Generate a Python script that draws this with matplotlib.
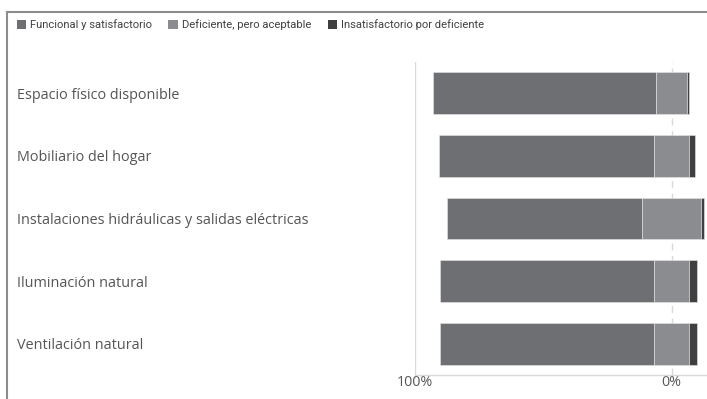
import matplotlib
matplotlib.use("Agg")
import matplotlib.pyplot as plt
from matplotlib.patches import Patch
from matplotlib.lines import Line2D
import numpy as np

categories = ["Espacio físico disponible", "Mobiliario del hogar",
              "Instalaciones hidráulicas y salidas eléctricas",
              "Iluminación natural", "Ventilación natural"]
funcional = [87.1, 84.0, 76.0, 83.3, 83.3]
deficiente = [12.1, 13.6, 23.0, 13.6, 13.6]
insatisfactorio = [0.8, 2.4, 1.0, 3.1, 3.1]
series_names = ["Funcional y satisfactorio", "Deficiente, pero aceptable",
                "Insatisfactorio por deficiente"]
tick_values = [-100, 0]
tick_labels = ["100%", "0%"]

colors = ["#6e6f72", "#8b8c8f", "#3f3f41"]
text_color = "#555555"
plt.rcParams['font.family'] = ['Open Sans', 'DejaVu Sans']

W, H = 707, 399
fig = plt.figure(figsize=(W / 100, H / 100), dpi=100)
ax_left, ax_right, ax_bottom, ax_top = 415, 707, 375, 62
ax = fig.add_axes([ax_left / W, 1 - ax_bottom / H, (ax_right - ax_left) / W,
                   (ax_bottom - ax_top) / H])

y = np.arange(len(categories))
f = np.array(funcional)
d = np.array(deficiente)
s = np.array(insatisfactorio)
start = -(f + d / 2)
bh = 0.67
ax.barh(y, f, left=start, height=bh, color=colors[0], edgecolor="#e6e6e6", linewidth=0.4, zorder=3)
ax.barh(y, d, left=start + f, height=bh, color=colors[1], edgecolor="#e6e6e6", linewidth=0.4, zorder=3)
ax.barh(y, s, left=start + f + d, height=bh, color=colors[2], edgecolor="#e6e6e6", linewidth=0.4, zorder=3)

ax.set_xlim(-100, 13.8)
ax.set_ylim(len(categories) - 0.5, -0.5)
for sp in ["top", "right", "left"]:
    ax.spines[sp].set_visible(False)
ax.spines["bottom"].set_color("#d9d9d9")
ax.spines["bottom"].set_linewidth(1.0)

ax.axvline(-100, color="#d9d9d9", lw=1.0, zorder=1)
ax.axvline(0, color="#d9d9d9", lw=1.0, ls=(0, (5, 4)), zorder=1)

ax.set_xticks(tick_values, labels=tick_labels)
ax.tick_params(axis="x", length=4, direction="inout", color="#d9d9d9", labelsize=10.3,
               labelcolor=text_color, pad=-2)
ax.set_yticks(y, labels=categories)
pad_pt = (ax_left - 17) * 72 / 100
ax.tick_params(axis="y", length=0, pad=pad_pt, labelsize=10.4, labelcolor=text_color)
for lab in ax.get_yticklabels():
    lab.set_horizontalalignment("left")

handles = [Patch(facecolor=c, edgecolor="none") for c in colors]
leg = fig.legend(handles, series_names, loc="upper left", bbox_to_anchor=(12 / W, 1 - 15 / H),
                 ncol=3, frameon=False, handlelength=0.85, handleheight=0.85,
                 handletextpad=0.35, columnspacing=1.45, labelcolor="#404040",
                 prop={"family": ["Roboto", "Open Sans"], "size": 8.1},
                 borderaxespad=0)

fig.add_artist(Line2D([6.5 / W, 6.5 / W], [0, 1 - 12 / H], transform=fig.transFigure,
                      color="#8c8c8c", lw=1.5))
fig.add_artist(Line2D([6.5 / W, 1], [1 - 12 / H, 1 - 12 / H], transform=fig.transFigure,
                      color="#8c8c8c", lw=1.5))

fig.savefig("out.png", dpi=100)
